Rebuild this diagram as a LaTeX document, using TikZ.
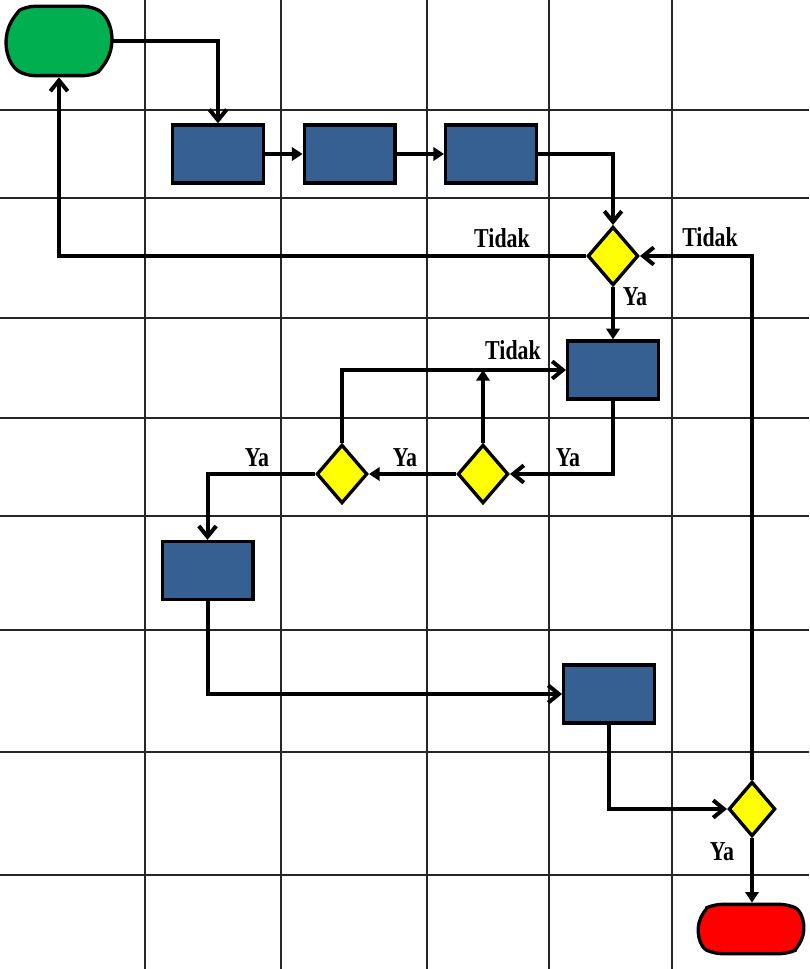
\documentclass[tikz,border=0pt]{standalone}
\usepackage{fontspec}
\newfontfamily\lblfont[FakeStretch=0.8]{Liberation Serif}
\usetikzlibrary{arrows.meta,shapes.geometric,shapes.misc}
\definecolor{startgreen}{RGB}{0,176,80}
\definecolor{boxblue}{RGB}{55,96,146}
\definecolor{decyellow}{RGB}{255,255,0}
\definecolor{endred}{RGB}{255,0,0}

\begin{document}
\begin{tikzpicture}[
  x=0.75pt, y=-0.75pt,
  font=\lblfont\bfseries\fontsize{20.5}{20.5}\selectfont,
  grid/.style={black!85, line width=1.2pt},
  b/.style={draw, line width=2.5pt, fill=boxblue, minimum width=68pt, minimum height=43.5pt, inner sep=0pt},
  dec/.style={diamond, draw, line width=2.5pt, fill=decyellow, minimum width=38pt, minimum height=44pt, inner sep=0pt},
  term/.style={rounded rectangle, rounded rectangle arc length=120, rounded corners=6pt, draw, line width=2.5pt, minimum width=79pt, minimum height=52pt, inner sep=0pt},
  lbl/.style={inner sep=0pt},
  pf/.style={line width=3pt, -{Straight Barb[length=8pt,width=13pt]}},
  pa/.style={line width=3pt, -{Triangle[length=8pt,width=10pt]}}
]
\useasboundingbox (0,0) rectangle (809,969);
\foreach \gx in {145,281,427,549,672} \draw[grid] (\gx,0) -- (\gx,969);
\foreach \gy in {110,198,318,418,516,630,752,875} \draw[grid] (0,\gy) -- (809,\gy);

\node[term, fill=startgreen] (start) at (59,41) {};
\node[b] (b1) at (218,154) {};
\node[b] (b2) at (349.5,154) {};
\node[b] (b3) at (491,154) {};
\node[dec] (d1) at (613,256) {};
\node[b] (b4) at (613,370) {};
\node[dec] (d2) at (483,474) {};
\node[dec] (d3) at (342,474) {};
\node[b] (b5) at (207.5,570.5) {};
\node[b] (b6) at (609,694) {};
\node[dec, minimum width=35pt, minimum height=41pt] (d4) at (752,809) {};
\node[term, fill=endred, minimum height=37pt, rounded rectangle arc length=130] (stop) at (751,929) {};
\coordinate (j) at (d2.north |- b4.west);

\node[lbl] (t1) at (502,238) {Tidak};
\node[lbl] (t2) at (710,237) {Tidak};
\node[lbl] (y1) at (635,297) {Ya};
\node[lbl] (t3) at (513,350) {Tidak};
\node[lbl] (y2) at (257,458) {Ya};
\node[lbl] (y3) at (405,458) {Ya};
\node[lbl] (y4) at (568,458) {Ya};
\node[lbl] (y5) at (722,852) {Ya};

\draw[pf] (start.east) -| (b1.north);
\draw[pa] (b1) -- (b2); \draw[pa] (b2) -- (b3);
\draw[pf] (b3.east) -| (d1.north);
\draw[pf] (d1.west) -| (start.south);
\draw[pa] (d1) -- (b4);
\draw[pf] (b4.south) |- (d2.east);
\draw[pa] (d2.north) -- (j);
\draw[pf] (d3.north) |- (b4.west);
\draw[pa] (d2) -- (d3);
\draw[pf] (d3.west) -| (b5.north);
\draw[pf] (b5.south) |- (b6.west);
\draw[pf] (b6.south) |- (d4.west);
\draw[pf] (d4.north) |- (d1.east);
\draw[pa] (d4.south) -- (d4.south |- stop.north);
\end{tikzpicture}
\end{document}
